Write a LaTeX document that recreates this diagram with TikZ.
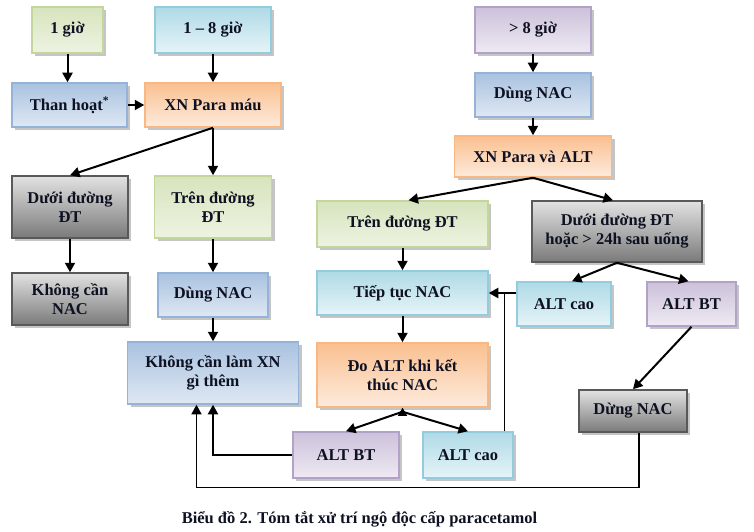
\documentclass[tikz,border=0pt]{standalone}
\usepackage{fontspec}
\setmainfont{Liberation Serif}[BoldFont={Liberation Serif Bold}]
\usetikzlibrary{arrows.meta,shadows,calc}
\definecolor{grnB}{HTML}{C3D69B}\definecolor{grnT}{HTML}{D7E4BD}\definecolor{grnL}{HTML}{EEF3E2}
\definecolor{cyaB}{HTML}{93CDDD}\definecolor{cyaT}{HTML}{AFDAE6}\definecolor{cyaL}{HTML}{E6F4F8}
\definecolor{bluB}{HTML}{95B3D7}\definecolor{bluT}{HTML}{A9C2E0}\definecolor{bluL}{HTML}{DFE8F3}
\definecolor{oraB}{HTML}{F9B784}\definecolor{oraT}{HTML}{FAC090}\definecolor{oraL}{HTML}{FDEBDD}
\definecolor{purB}{HTML}{B3A2C7}\definecolor{purT}{HTML}{CCC1DA}\definecolor{purL}{HTML}{EEEAF3}
\definecolor{gryB}{HTML}{595959}\definecolor{gryT}{HTML}{E2E2E2}\definecolor{gryL}{HTML}{7A7A7A}
\definecolor{txt}{HTML}{0E1122}
\tikzset{
  box/.style={line width=1.5pt, align=center, inner sep=2pt,
    font=\bfseries\fontsize{16.5}{19}\selectfont, text=txt,
    drop shadow={shadow xshift=3pt, shadow yshift=-3pt, fill=black!45, opacity=0.5}},
  grnbox/.style={box, draw=grnB, top color=grnT, bottom color=grnL},
  cyabox/.style={box, draw=cyaB, top color=cyaT, bottom color=cyaL},
  blubox/.style={box, draw=bluB, top color=bluT, bottom color=bluL},
  orabox/.style={box, draw=oraB, top color=oraT, bottom color=oraL},
  purbox/.style={box, draw=purB, top color=purT, bottom color=purL},
  grybox/.style={box, draw=gryB, top color=gryT, bottom color=gryL},
  sz/.style 2 args={minimum width=#1pt, minimum height=#2pt},
  arr/.style={line width=2pt, -{Triangle[length=9.5pt,width=10pt]}},
  thinarr/.style={line width=1.4pt, -{Triangle[length=9.5pt,width=10pt]}},
  thinline/.style={line width=1.4pt},
}
\begin{document}
\begin{tikzpicture}[x=1pt,y=-1pt]
\useasboundingbox (0,0) rectangle (754,532);
% nodes
\node[grnbox, sz={71}{46}] (n1) at (67.5,30) {1 giờ};
\node[cyabox, sz={116}{46}] (n2) at (213,30) {1 – 8 giờ};
\node[blubox, sz={115}{44}] (n3) at (69.5,105) {Than hoạt\textsuperscript{*}};
\node[orabox, sz={136}{44}] (n4) at (213,105) {XN Para máu};
\node[grybox, sz={116}{62}] (n5) at (70,207) {Dưới đường\\ĐT};
\node[grnbox, sz={117}{62}] (n6) at (213,207) {Trên đường\\ĐT};
\node[grybox, sz={116}{52}] (n7) at (70,299) {Không cần\\NAC};
\node[blubox, sz={110}{44}] (n8) at (213,295) {Dùng NAC};
\node[blubox, sz={171}{62}] (n9) at (213,373) {Không cần làm XN\\gì thêm};
\node[purbox, sz={116}{46}] (n10) at (533,30) {> 8 giờ};
\node[blubox, sz={116}{44}] (n11) at (533,95) {Dùng NAC};
\node[orabox, sz={157}{41}] (n12) at (533,156.5) {XN Para và ALT};
\node[grnbox, sz={171}{46}] (n13) at (402.5,224) {Trên đường ĐT};
\node[grybox, sz={170}{61}] (n14) at (617,231.5) {Dưới đường ĐT\\hoặc > 24h sau uống};
\node[cyabox, sz={171}{44}] (n15) at (402.5,293) {Tiếp tục NAC};
\node[cyabox, sz={94}{44}] (n16) at (564,304) {ALT cao};
\node[purbox, sz={89}{44}] (n17) at (691.5,304) {ALT BT};
\node[orabox, sz={171}{64}] (n18) at (402.5,375) {Đo ALT khi kết\\thúc NAC};
\node[purbox, sz={106}{46}] (n19) at (346,455) {ALT BT};
\node[cyabox, sz={90}{46}] (n20) at (468,455) {ALT cao};
\node[grybox, sz={108}{42}] (n21) at (633,411) {Dừng NAC};
\node[font=\bfseries\fontsize{16.5}{19}\selectfont, text=txt, inner sep=0pt] (cap) at (359.5,519) {Biểu đồ 2. Tóm tắt xử trí ngộ độc cấp paracetamol};
% connectors
\draw[arr] (n1.south) -- (n1.south |- n3.north);
\draw[arr] (n2.south) -- (n4.north);
\draw[arr] (n3.east) -- (n4.west);
\draw[arr] (n4.south) -- (n5.north);
\draw[arr] (n4.south) -- (n6.north);
\draw[arr] (n5.south) -- (n7.north);
\draw[arr] (n6.south) -- (n8.north);
\draw[arr] (n8.south) -- (n9.north);
\draw[arr] (n10.south) -- (n11.north);
\draw[arr] (n11.south) -- (n12.north);
\draw[arr] (n12.south) -- ([xshift=6pt]n13.north);
\draw[arr] (n12.south) -- ([xshift=-4pt]n14.north);
\draw[arr] (n13.south) -- (n15.north);
\draw[arr] (n14.south) -- ([xshift=8pt]n16.north);
\draw[arr] (n14.south) -- ([xshift=-3pt]n17.north);
\draw[arr] (n16.west |- n15.east) -- (n15.east);
\draw[thinline] ([xshift=-9pt]n20.north east) -- ([xshift=-9pt]n20.north east |- n15.east);
\draw[arr] (n15.south) -- (n18.north);
\coordinate (j) at ([yshift=-4pt]n18.south);
\draw[line width=1.5pt, -{Triangle[length=8pt,width=9pt]}] (j) -- (n18.south);
\draw[arr] (j) -- (n19.north);
\draw[arr] (j) -- (n20.north);
\draw[arr] (n17.south) -- (n21.north);
\draw[arr] (n19.west) -| (n9.south);
\draw[thinarr] ([xshift=6pt]n21.south) -- ++(0,55) -| ([xshift=-16.5pt]n9.south);
\end{tikzpicture}
\end{document}
